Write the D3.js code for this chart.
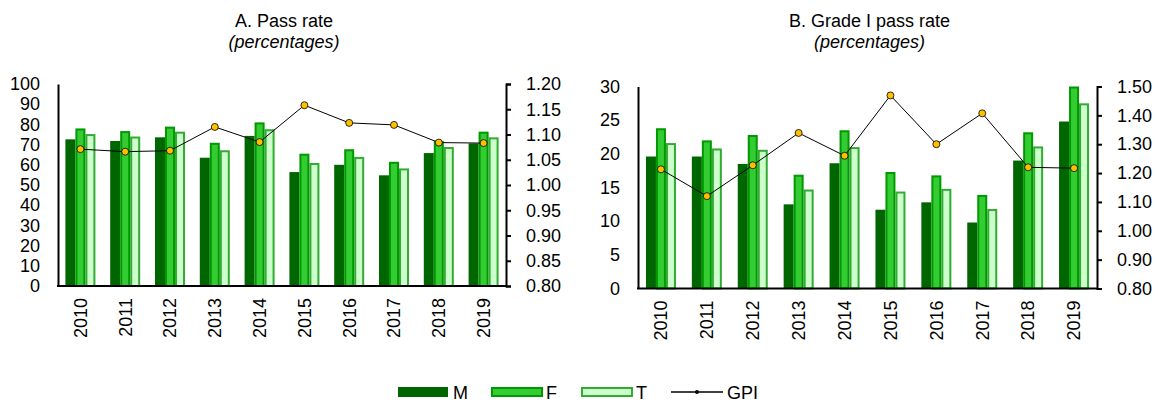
<!DOCTYPE html>
<html><head><meta charset="utf-8">
<script src="https://cdn.jsdelivr.net/npm/d3@7"></script>
<style>
body{margin:0;background:#fff;}
text{font-family:"Liberation Sans",Arial,sans-serif;fill:#000;}
</style></head>
<body><svg id="c" width="1158" height="405"></svg>
<script>
const years = ["2010","2011","2012","2013","2014","2015","2016","2017","2018","2019"];
const passM = [72.6,71.8,73.6,63.5,74.3,56.4,60.0,54.8,65.8,70.6];
const passF = [78.0,76.7,78.9,70.9,81.0,65.5,67.7,61.5,71.8,76.4];
const passT = [75.2,74.0,76.4,67.2,77.6,60.9,63.9,58.2,68.8,73.6];
const passGPI = [1.071,1.066,1.068,1.115,1.085,1.158,1.123,1.119,1.084,1.083];
const g1M = [19.6,19.6,18.5,12.5,18.6,11.7,12.8,9.8,19.0,24.8];
const g1F = [23.8,22.0,22.8,16.9,23.5,17.3,16.8,13.9,23.2,30.0];
const g1T = [21.6,20.8,20.6,14.7,21.0,14.4,14.8,11.8,21.1,27.5];
const g1GPI = [1.213,1.120,1.227,1.339,1.260,1.469,1.300,1.407,1.220,1.217];
const leftTicksA = [0,10,20,30,40,50,60,70,80,90,100];
const rightTicksA = [0.80,0.85,0.90,0.95,1.00,1.05,1.10,1.15,1.20];
const leftTicksB = [0,5,10,15,20,25,30];
const rightTicksB = [0.80,0.90,1.00,1.10,1.20,1.30,1.40,1.50];
const seriesNames = ["M","F","T"];

const colors = {M:{fill:"#006600",stroke:"#006600"},F:{fill:"#33CC33",stroke:"#009900"},T:{fill:"#CCFFCC",stroke:"#33AA33"}};
const svg = d3.select("#c");

function panel(cfg){
  const g = svg.append("g");
  const x = d3.scaleBand().domain(years).range([cfg.x0,cfg.x1]);
  const inner = d3.scaleBand().domain(seriesNames).range([0,30]);
  const y = d3.scaleLinear().domain(cfg.ldom).range([cfg.y1,cfg.y0]);
  const y2 = d3.scaleLinear().domain(cfg.rdom).range([cfg.y1,cfg.y0]);
  const data = {M:cfg.M,F:cfg.F,T:cfg.T};
  seriesNames.forEach(s=>{
    g.append("g").selectAll("rect").data(years).join("rect")
      .attr("x",(d,i)=>x(d)+x.bandwidth()/2-15+inner(s)+(s==="M"?0:1))
      .attr("width",s==="M"?inner.bandwidth():inner.bandwidth()-2)
      .attr("y",(d,i)=>y(Math.min(data[s][i],cfg.ldom[1]))+(s==="M"?0:1))
      .attr("height",(d,i)=>cfg.y1-y(Math.min(data[s][i],cfg.ldom[1]))-(s==="M"?0:1))
      .attr("fill",colors[s].fill)
      .attr("stroke",s==="M"?"none":colors[s].stroke)
      .attr("stroke-width",2);
  });
  const la = g.append("g").attr("transform",`translate(${cfg.x0},0)`)
    .call(d3.axisLeft(y).tickValues(cfg.lticks).tickSize(0).tickPadding(18).tickFormat(d3.format("d")));
  la.select(".domain").attr("stroke","#000").attr("stroke-width",2);
  la.selectAll("text").style("font-size","18px");
  const ra = g.append("g").attr("transform",`translate(${cfg.x1},0)`)
    .call(d3.axisRight(y2).tickValues(cfg.rticks).tickSize(5).tickSizeOuter(5).tickPadding(15).tickFormat(d3.format(".2f")));
  ra.select(".domain").attr("stroke","#000").attr("stroke-width",2);
  ra.selectAll("line").attr("stroke","#000").attr("stroke-width",2);
  ra.selectAll("text").style("font-size","18px");
  const ba = g.append("g").attr("transform",`translate(0,${cfg.y1})`)
    .call(d3.axisBottom(x).tickSize(0).tickPadding(0));
  ba.select(".domain").attr("stroke","#000").attr("stroke-width",2).attr("d",`M${cfg.x0-1},0H${cfg.x1+1}`);
  ba.selectAll("text").style("font-size","18px")
    .attr("transform","rotate(-90)").attr("text-anchor","end")
    .attr("x",-12).attr("y",0).attr("dy","0.35em");
  const line = d3.line().x((d,i)=>x(years[i])+x.bandwidth()/2).y(d=>y2(d));
  g.append("path").datum(cfg.G).attr("d",line).attr("fill","none").attr("stroke","#000").attr("stroke-width",1);
  g.append("g").selectAll("circle").data(cfg.G).join("circle")
    .attr("cx",(d,i)=>x(years[i])+x.bandwidth()/2).attr("cy",d=>y2(d)).attr("r",3.5)
    .attr("fill","#FFC000").attr("stroke","#000").attr("stroke-width",0.8);
  const cx=(cfg.x0+cfg.x1)/2+2;
  g.append("text").attr("x",cx).attr("y",27).attr("text-anchor","middle").style("font-size","18px").text(cfg.title);
  g.append("text").attr("x",cx).attr("y",48).attr("text-anchor","middle").style("font-size","18px").style("font-style","italic").text("(percentages)");
}

panel({x0:58,x1:506,y0:84,y1:286,ldom:[0,100],rdom:[0.8,1.2],lticks:leftTicksA,rticks:rightTicksA,
  M:passM,F:passF,T:passT,G:passGPI,title:"A. Pass rate"});
panel({x0:638,x1:1097,y0:86.5,y1:288.5,ldom:[0,30],rdom:[0.8,1.5],lticks:leftTicksB,rticks:rightTicksB,
  M:g1M,F:g1F,T:g1T,G:g1GPI,title:"B. Grade I pass rate"});

const lg = svg.append("g");
const legendItems = [{k:"M",x:398},{k:"F",x:491},{k:"T",x:581}];
legendItems.forEach(it=>{
  const s=it.k==="M";
  lg.append("rect").attr("x",it.x+(s?0:1)).attr("y",387+(s?0:1)).attr("width",50).attr("height",s?10:8)
    .attr("fill",colors[it.k].fill).attr("stroke",s?"none":colors[it.k].stroke).attr("stroke-width",2);
  lg.append("text").attr("x",it.x+55).attr("y",399).style("font-size","18px").text(it.k);
});
lg.append("line").attr("x1",671).attr("x2",723).attr("y1",392).attr("y2",392).attr("stroke","#000").attr("stroke-width",1.5);
lg.append("circle").attr("cx",697).attr("cy",392).attr("r",2).attr("fill","#000");
lg.append("text").attr("x",727).attr("y",399).style("font-size","18px").text("GPI");
</script></body></html>
